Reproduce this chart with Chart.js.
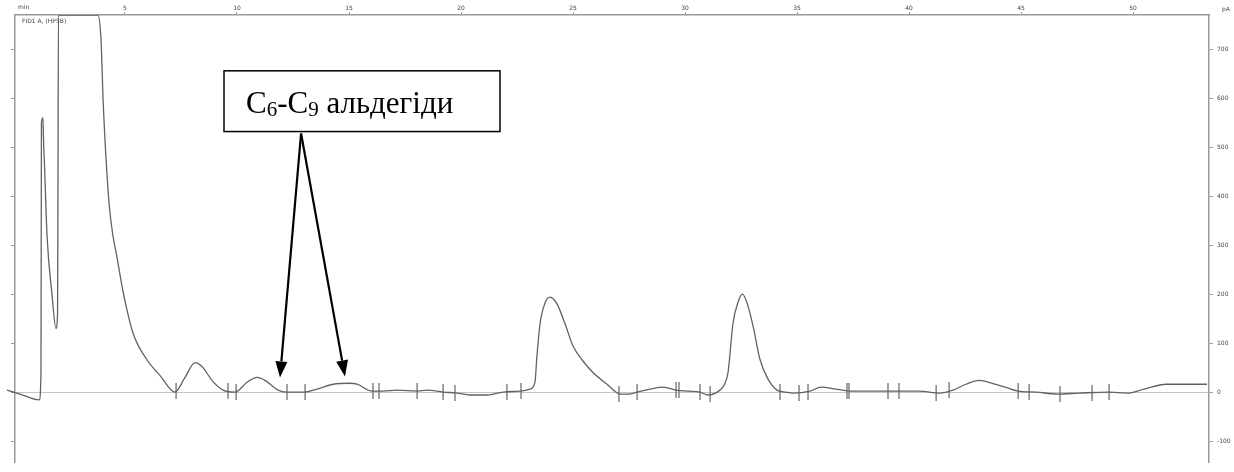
<!DOCTYPE html>
<html>
<head>
<meta charset="utf-8">
<script src="https://cdn.jsdelivr.net/npm/chart.js@4.4.1/dist/chart.umd.min.js"></script>
<style>
  html, body { margin: 0; padding: 0; background: #fff; }
  #chromatogram { display: block; }
</style>
</head>
<body>
<canvas id="chromatogram" width="1234" height="472"></canvas>
<script>
// retention time, min
const TIME = [
  -0.27, 0.31, 1.17, 1.25, 1.27, 1.34, 1.36, 1.41, 1.52, 1.74, 1.92, 1.99, 2.01, 2.03, 3.79,
  3.93, 4.02, 4.15, 4.30, 4.46, 4.64, 4.91, 5.36, 5.98, 6.56, 7.23, 7.68, 8.13,
  8.48, 8.88, 9.38, 9.91, 10.45, 10.89, 11.25, 11.83, 12.23, 13.04, 13.57, 14.29, 15.04,
  15.36, 16.03, 16.52, 17.14, 18.04, 18.48, 19.20, 19.82, 20.40, 21.16, 21.88, 22.63,
  23.08, 23.30, 23.39, 23.53, 23.75, 23.98, 24.20, 24.33, 24.64, 25.00, 25.40,
  25.89, 26.52, 27.10, 27.54, 27.86, 28.44, 29.02, 29.60, 30.18, 30.67, 31.03, 31.56,
  31.74, 31.92, 32.14, 32.37, 32.57, 32.81, 33.04, 33.35, 33.71, 34.11,
  34.50, 34.82, 35.58, 36.07, 36.74, 37.32, 38.48, 40.45, 41.38, 41.96, 42.54, 43.13,
  43.71, 44.29, 44.87, 45.67, 46.61, 47.59, 48.93, 49.73, 50.49, 51.47, 52.41, 53.30
];
// detector signal
const SIGNAL = [
  4, -4, -16, 40, 550, 560, 520, 460, 320, 200, 130, 160, 446, 770, 770,
  720, 600, 480, 380, 320, 276, 206, 120, 66, 34, 0, 30, 60,
  50, 24, 4, 0, 20, 30, 24, 4, 0, 0, 6, 16, 18,
  16, 2, 2, 4, 2, 4, 0, -2, -6, -6, 0, 2,
  6, 20, 74, 140, 182, 194, 186, 176, 140, 94, 66,
  40, 16, -4, -4, 0, 6, 10, 4, 2, 0, -6, 4,
  14, 40, 140, 184, 200, 176, 134, 66, 26, 4,
  0, -2, 2, 10, 6, 2, 2, 2, -2, 4, 16, 24,
  18, 10, 2, 0, -4, -2, 0, -2, 6, 16, 16, 16
];
// integration marks
const MARK_TIME = [
  7.28, 9.60, 9.96, 12.23, 13.04, 16.07, 16.34, 18.04, 19.20, 19.73, 22.05, 22.68,
  27.05, 27.86, 29.60, 29.73, 30.67, 31.12, 34.24, 35.09, 35.49, 37.23, 37.32, 39.06,
  39.55, 41.21, 41.79, 44.87, 45.36, 46.74, 48.17, 48.93
];
const MARK_SIGNAL = [
  2, 2, 0, 0, 0, 2, 2, 2, 0, -2, 0, 2,
  -4, 0, 4, 4, 0, -4, 0, -2, 0, 2, 2, 2,
  2, -2, 4, 2, 0, -4, -2, 0
];
const X_TICKS = [5, 10, 15, 20, 25, 30, 35, 40, 45, 50];
const Y_TICKS = [-100, 0, 100, 200, 300, 400, 500, 600, 700];

const LABEL_TEXT = ['C', '6', '-C', '9', ' альдегіди'];
const LABEL_BOX = { t0: 9.42, t1: 21.74, v0: 656, v1: 532 };
const ARROW_FROM = { t: 12.86, v: 528 };
const ARROW_TO = [{ t: 11.92, v: 30 }, { t: 14.82, v: 32 }];

const AXIS = '#9a9a9a';
const TEXT = '#444';
const tinyFont = { family: 'DejaVu Sans', size: 6 };

const annotationPlugin = {
  id: 'aldehydes',
  afterDraw(chart) {
    const { ctx, scales } = chart;
    const x = scales.x, y = scales.y;
    ctx.save();

    // unit labels
    ctx.font = '6px "DejaVu Sans"';
    ctx.fillStyle = TEXT;
    ctx.textBaseline = 'middle';
    ctx.textAlign = 'left';
    ctx.fillText('min', 18, 7);
    ctx.fillText('FID1 A, (HP5B)', 22, 21);
    ctx.fillText('pA', 1222, 9);

    // box with label
    const bx0 = x.getPixelForValue(LABEL_BOX.t0);
    const bx1 = x.getPixelForValue(LABEL_BOX.t1);
    const by0 = y.getPixelForValue(LABEL_BOX.v0);
    const by1 = y.getPixelForValue(LABEL_BOX.v1);
    ctx.fillStyle = '#fff';
    ctx.fillRect(bx0, by0, bx1 - bx0, by1 - by0);
    ctx.strokeStyle = '#000';
    ctx.lineWidth = 1.5;
    ctx.strokeRect(bx0, by0, bx1 - bx0, by1 - by0);

    let tx = bx0 + 22;
    const base = by0 + 42;
    ctx.fillStyle = '#000';
    ctx.textBaseline = 'alphabetic';
    LABEL_TEXT.forEach((part, i) => {
      const sub = i === 1 || i === 3;
      ctx.font = (sub ? '21px' : '31px') + ' "Liberation Serif"';
      ctx.fillText(part, tx, sub ? base + 3 : base);
      tx += ctx.measureText(part).width;
    });

    // arrows
    const fx = x.getPixelForValue(ARROW_FROM.t);
    const fy = y.getPixelForValue(ARROW_FROM.v);
    ARROW_TO.forEach(p => {
      const px = x.getPixelForValue(p.t);
      const py = y.getPixelForValue(p.v);
      const ang = Math.atan2(py - fy, px - fx);
      const head = 16, half = 6;
      const hx = px - head * Math.cos(ang);
      const hy = py - head * Math.sin(ang);
      ctx.strokeStyle = '#000';
      ctx.lineWidth = 2.2;
      ctx.beginPath();
      ctx.moveTo(fx, fy);
      ctx.lineTo(hx, hy);
      ctx.stroke();
      ctx.beginPath();
      ctx.moveTo(px, py);
      ctx.lineTo(hx + half * Math.sin(ang), hy - half * Math.cos(ang));
      ctx.lineTo(hx - half * Math.sin(ang), hy + half * Math.cos(ang));
      ctx.closePath();
      ctx.fillStyle = '#000';
      ctx.fill();
    });
    ctx.restore();
  }
};

const trace = TIME.map((t, i) => ({ x: t, y: SIGNAL[i] }));
const marks = MARK_TIME.map((t, i) => ({ x: t, y: MARK_SIGNAL[i] }));

new Chart(document.getElementById('chromatogram'), {
  type: 'line',
  data: {
    datasets: [
      {
        data: trace,
        borderColor: '#626262',
        borderWidth: 1.3,
        pointRadius: 0,
        cubicInterpolationMode: 'monotone',
        clip: { left: 12, top: 0, right: 0, bottom: 0 },
      },
      {
        data: marks,
        showLine: false,
        pointStyle: 'line',
        rotation: 90,
        pointRadius: 8,
        borderColor: '#7a7a7a',
        borderWidth: 1.4,
      },
    ],
  },
  options: {
    responsive: false,
    animation: false,
    devicePixelRatio: 1,
    layout: { padding: 0 },
    plugins: { legend: { display: false }, tooltip: { enabled: false } },
    scales: {
      x: {
        type: 'linear',
        position: 'top',
        min: 0.09,
        max: 53.39,
        afterBuildTicks: s => { s.ticks = X_TICKS.map(v => ({ value: v })); },
        afterFit: s => { s.height = 15; },
        border: { color: AXIS, width: 1.5 },
        grid: { drawOnChartArea: false, tickLength: 3, color: AXIS },
        ticks: { font: tinyFont, color: TEXT, padding: 0, maxRotation: 0 },
      },
      y: {
        position: 'right',
        min: -144,
        max: 770,
        afterBuildTicks: s => { s.ticks = Y_TICKS.map(v => ({ value: v })); },
        afterFit: s => { s.width = 25; },
        border: { color: AXIS, width: 1.5 },
        grid: {
          color: c => (c.tick && c.tick.value === 0 ? '#c4c4c4' : 'rgba(0,0,0,0)'),
          tickColor: AXIS,
          tickLength: 4,
        },
        ticks: { font: tinyFont, color: TEXT, padding: 4 },
      },
      yl: {
        position: 'left',
        min: -144,
        max: 770,
        afterBuildTicks: s => { s.ticks = Y_TICKS.map(v => ({ value: v })); },
        afterFit: s => { s.width = 15; },
        border: { color: AXIS, width: 1.5 },
        grid: { drawOnChartArea: false, tickLength: 4, color: AXIS },
        ticks: { display: false },
      },
    },
  },
  plugins: [annotationPlugin],
});
</script>
</body>
</html>
